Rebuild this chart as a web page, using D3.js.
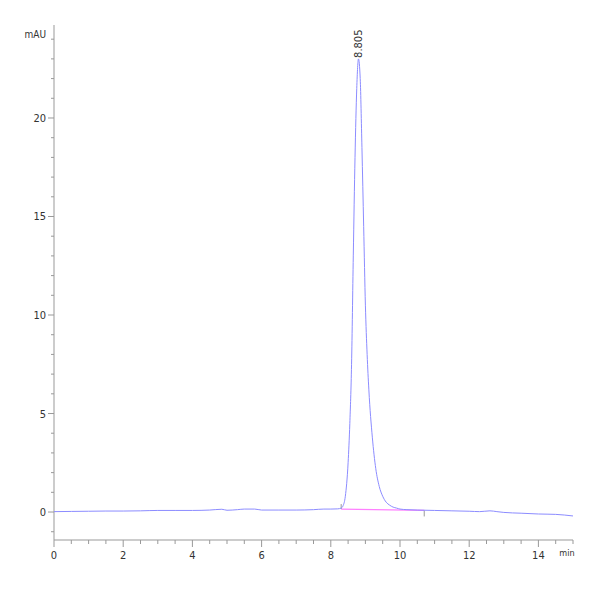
<!DOCTYPE html>
<html>
<head>
<meta charset="utf-8">
<script src="https://cdn.jsdelivr.net/npm/d3@7"></script>
<style>
  body { margin: 0; background: #fff; }
  text { font-family: "Liberation Sans Narrow", "DejaVu Sans Condensed", sans-serif; font-stretch: condensed; fill: #333; }
</style>
</head>
<body>
<script>
// Cromatograma: tiempo (min) y absorbancia (mAU)
var tiempos = [0, 0.5, 1, 1.5, 2, 2.5, 3, 3.5, 4, 4.5, 4.85, 5.0, 5.3, 5.5, 5.8, 6.0, 6.5, 7.0, 7.5, 7.8, 8.0, 8.2, 8.3,
	8.35, 8.42, 8.5, 8.55, 8.6, 8.65, 8.7, 8.75, 8.8, 8.85, 8.9, 8.95, 9.0, 9.05, 9.1, 9.2, 9.3, 9.4, 9.5, 9.6, 9.7, 9.8, 9.9,
	10.0, 10.2, 10.5, 11, 11.5, 12, 12.3, 12.6, 12.8, 13, 13.5, 14, 14.5, 15];
var senal = [0.02, 0.03, 0.04, 0.05, 0.05, 0.06, 0.08, 0.08, 0.08, 0.1, 0.14, 0.09, 0.12, 0.15, 0.15, 0.1, 0.1, 0.1, 0.12, 0.15, 0.15, 0.16, 0.2,
	0.3, 0.8, 2.5, 4.5, 7.5, 13, 18, 21.5, 23.0, 22.0, 18.5, 14.5, 10.5, 8.0, 6.2, 3.8, 2.2, 1.3, 0.8, 0.5, 0.35, 0.25, 0.2,
	0.15, 0.12, 0.1, 0.08, 0.06, 0.04, 0.02, 0.06, 0.02, -0.02, -0.06, -0.1, -0.12, -0.2];

// Linea base de integracion (inicio y fin)
var baseT = [8.3, 10.7];
var baseY = [0.15, 0.08];

var picoT = 8.8;
var picoY = 23.0;
var picoLabel = "8.805";

var xTicks = [0, 2, 4, 6, 8, 10, 12, 14];
var yTicks = [0, 5, 10, 15, 20];

var canvas = d3.select("body")
	.append("svg")
	.attr("width", 600)
	.attr("height", 600);

var x = d3.scaleLinear().domain([0, 15]).range([54, 573]);
var y = d3.scaleLinear().domain([-1.42, 24.72]).range([540, 25]);

// Eje X
var xMinor = d3.range(0, 15.01, 0.5);
canvas.append("line")
	.attr("x1", x(0)).attr("x2", x(15))
	.attr("y1", 540).attr("y2", 540)
	.attr("stroke", "#999");
canvas.selectAll(".xtick")
	.data(xMinor)
	.enter()
	.append("line")
	.attr("x1", function(d){return x(d);})
	.attr("x2", function(d){return x(d);})
	.attr("y1", 540)
	.attr("y2", function(d){return d % 2 == 0 ? 547 : 544;})
	.attr("stroke", "#999");
canvas.selectAll(".xlabel")
	.data(xTicks)
	.enter()
	.append("text")
	.attr("x", function(d){return x(d);})
	.attr("y", 559)
	.attr("text-anchor", "middle")
	.attr("font-size", 11)
	.text(function(d){return d;});
canvas.append("text")
	.attr("x", x(15) - 6)
	.attr("y", 556)
	.attr("text-anchor", "middle")
	.attr("font-size", 9)
	.text("min");

// Eje Y
var yMinor = d3.range(-1, 24.01, 1);
canvas.append("line")
	.attr("x1", 54).attr("x2", 54)
	.attr("y1", 25).attr("y2", 540)
	.attr("stroke", "#999");
canvas.selectAll(".ytick")
	.data(yMinor)
	.enter()
	.append("line")
	.attr("x1", 54)
	.attr("x2", function(d){return d % 5 == 0 ? 48 : 51;})
	.attr("y1", function(d){return y(d);})
	.attr("y2", function(d){return y(d);})
	.attr("stroke", "#999");
canvas.selectAll(".ylabel")
	.data(yTicks)
	.enter()
	.append("text")
	.attr("x", 46)
	.attr("y", function(d){return y(d) + 4;})
	.attr("text-anchor", "end")
	.attr("font-size", 11)
	.text(function(d){return d;});
canvas.append("text")
	.attr("x", 46)
	.attr("y", 38)
	.attr("text-anchor", "end")
	.attr("font-size", 10)
	.text("mAU");

// Linea base rosa
canvas.append("line")
	.attr("x1", x(baseT[0])).attr("x2", x(baseT[1]))
	.attr("y1", y(baseY[0])).attr("y2", y(baseY[1]))
	.attr("stroke", "#ff80ff")
	.attr("stroke-width", 1.2);
canvas.append("line")
	.attr("x1", x(baseT[0])).attr("x2", x(baseT[0]))
	.attr("y1", y(baseY[0])).attr("y2", y(baseY[0]) - 5)
	.attr("stroke", "#999");
canvas.append("line")
	.attr("x1", x(baseT[1])).attr("x2", x(baseT[1]))
	.attr("y1", y(baseY[1])).attr("y2", y(baseY[1]) + 6)
	.attr("stroke", "#999");

// Senal
var puntos = tiempos.map(function(t, i){return [t, senal[i]];});
var linea = d3.line()
	.x(function(d){return x(d[0]);})
	.y(function(d){return y(d[1]);})
	.curve(d3.curveMonotoneX);
canvas.append("path")
	.datum(puntos)
	.attr("d", linea)
	.attr("fill", "none")
	.attr("stroke", "#8c8cff")
	.attr("stroke-width", 1);

// Etiqueta del pico
canvas.append("text")
	.attr("transform", "translate(" + (x(picoT) + 4) + "," + (y(picoY) - 1) + ") rotate(-90)")
	.attr("font-size", 11)
	.attr("fill", "#444")
	.text(picoLabel);
</script>
</body>
</html>
